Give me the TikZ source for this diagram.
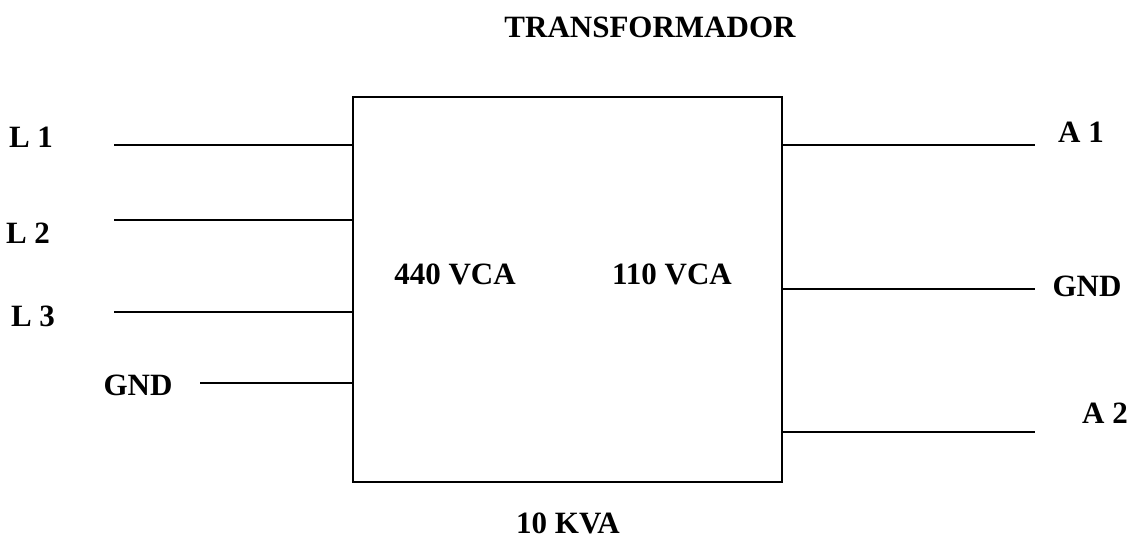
\documentclass[tikz,border=0pt]{standalone}
\usepackage{fontspec}
\setmainfont{Liberation Serif}
\usetikzlibrary{positioning}

\begin{document}
\begin{tikzpicture}[
    x=1pt, y=-1pt,
    lbl/.style={font=\fontsize{31}{36}\selectfont\bfseries, inner sep=0pt},
    wire/.style={line width=1.6pt},
    trafo/.style={rectangle, draw, line width=1.6pt, minimum width=429pt, minimum height=385pt, inner sep=0pt},
]
\useasboundingbox (0,0) rectangle (1129,547);

% ======== TRANSFORMER BOX ========
\node[lbl] (title) at (650,27) {TRANSFORMADOR};
\node[trafo] (tr) at (567.5,289.5) {};
\node[lbl] (vin) at (455,274) {440 VCA};
\node[lbl] (vout) at (672,274) {110 VCA};
\node[lbl] (kva) at (568,523) {10 KVA};

% ======== PRIMARY (left) ========
\coordinate (l1) at (114,145);
\coordinate (l2) at (114,220);
\coordinate (l3) at (114,312);
\coordinate (gin) at (200,383);
\node[lbl] (txtl1) at (31,137) {L 1};
\node[lbl] (txtl2) at (28,233) {L 2};
\node[lbl] (txtl3) at (33,316) {L 3};
\node[lbl] (txtgin) at (138,385) {GND};

\draw[wire] (l1) -- (l1 -| tr.west);
\draw[wire] (l2) -- (l2 -| tr.west);
\draw[wire] (l3) -- (l3 -| tr.west);
\draw[wire] (gin) -- (gin -| tr.west);

% ======== SECONDARY (right) ========
\coordinate (a1) at (1035,145);
\coordinate (gout) at (1035,289);
\coordinate (a2) at (1035,432);
\node[lbl] (txta1) at (1081,132) {A 1};
\node[lbl] (txtgout) at (1087,286) {GND};
\node[lbl] (txta2) at (1105,413) {A 2};

\draw[wire] (tr.east |- a1) -- (a1);
\draw[wire] (tr.east |- gout) -- (gout);
\draw[wire] (tr.east |- a2) -- (a2);

\end{tikzpicture}
\end{document}
